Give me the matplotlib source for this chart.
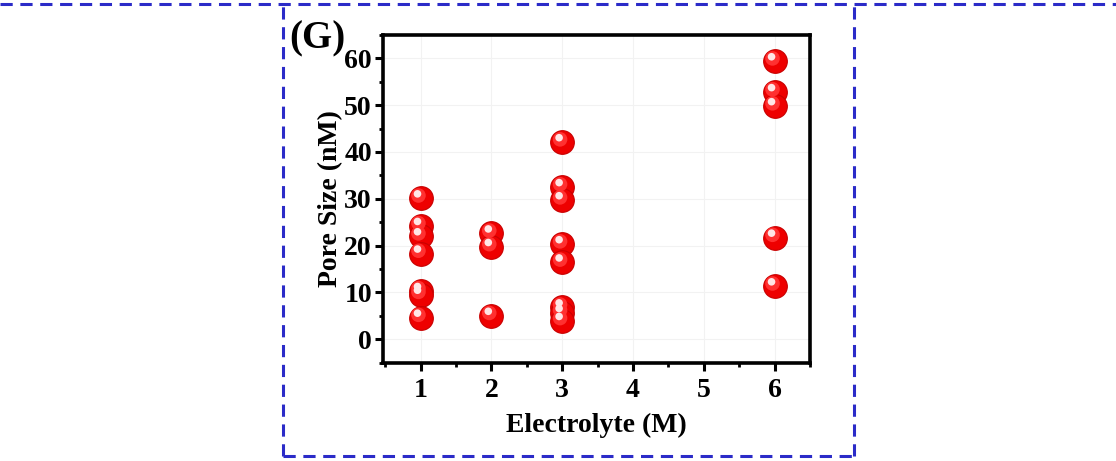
import numpy as np
import matplotlib
matplotlib.use("Agg")
import matplotlib.pyplot as plt
from matplotlib.lines import Line2D
from matplotlib.transforms import ScaledTranslation

# data
electrolyte = [1, 1, 1, 1, 1, 1, 1,
               2, 2, 2,
               3, 3, 3, 3, 3, 3, 3, 3,
               6, 6, 6, 6, 6]
pore_size = [30.1, 24.2, 22.0, 18.3, 10.3, 9.5, 4.6,
             22.6, 19.7, 5.0,
             42.1, 32.5, 29.7, 20.3, 16.4, 6.8, 5.6, 3.9,
             59.4, 52.8, 49.8, 21.7, 11.3]
xticks = [1, 2, 3, 4, 5, 6]
yticks = [0, 10, 20, 30, 40, 50, 60]

plt.rcParams['font.family'] = ['Liberation Serif', 'DejaVu Serif']
plt.rcParams['font.weight'] = 'bold'

fig = plt.figure(figsize=(11.16, 4.61), dpi=100)
ax = fig.add_axes([0.3432, 0.2126, 0.3826, 0.7115])

# glossy sphere look: red disc + small highlight shifted up-left
ax.scatter(electrolyte, pore_size, s=290, color='#ee0000', edgecolor='#c80000',
           linewidth=0.8, zorder=3)
ax.scatter(electrolyte, pore_size, s=110, color='#ff3030', edgecolor='none',
           zorder=4, transform=ax.transData + ScaledTranslation(-1.5/72, 2/72, fig.dpi_scale_trans))
ax.scatter(electrolyte, pore_size, s=30, color='#ffe6e6', edgecolor='none',
           zorder=5, transform=ax.transData + ScaledTranslation(-2.2/72, 3.2/72, fig.dpi_scale_trans))

ax.set_xlim(0.47, 6.48)
ax.set_ylim(-5.1, 65)
ax.set_xticks(xticks)
ax.set_yticks(yticks)
ax.set_xticks(np.arange(0.5, 6.6, 0.5), minor=True)
ax.set_yticks(np.arange(-5, 66, 5), minor=True)
ax.grid(True, which='major', color='#f2f2f2', linewidth=0.8)
ax.set_axisbelow(True)

for sp in ax.spines.values():
    sp.set_linewidth(2.6)
ax.tick_params(which='major', direction='out', length=6, width=2.2,
               labelsize=20, pad=2, top=False, right=False)
ax.tick_params(axis='x', which='major', pad=5)
ax.tick_params(which='minor', direction='out', length=3, width=2,
               top=False, right=False)
for lab in ax.get_xticklabels() + ax.get_yticklabels():
    lab.set_fontweight('bold')

ax.set_xlabel('Electrolyte (M)', fontsize=20, fontweight='bold', labelpad=7)
ax.set_ylabel('Pore Size (nM)', fontsize=20, fontweight='bold', labelpad=1)

fig.text(0.259, 0.895, '(G)', fontsize=28, fontweight='bold')

# dashed blue frame
blue = '#2b2bc8'
dash = dict(color=blue, linewidth=2.2, linestyle=(0, (4, 2.5)))
fig.add_artist(Line2D([0, 1], [0.991, 0.991], **dash))
fig.add_artist(Line2D([0.2536, 0.7652], [0.011, 0.011], **dash))
fig.add_artist(Line2D([0.2536, 0.2536], [0.011, 0.991], **dash))
fig.add_artist(Line2D([0.7652, 0.7652], [0.011, 0.991], **dash))

fig.savefig('out.png', dpi=100)
